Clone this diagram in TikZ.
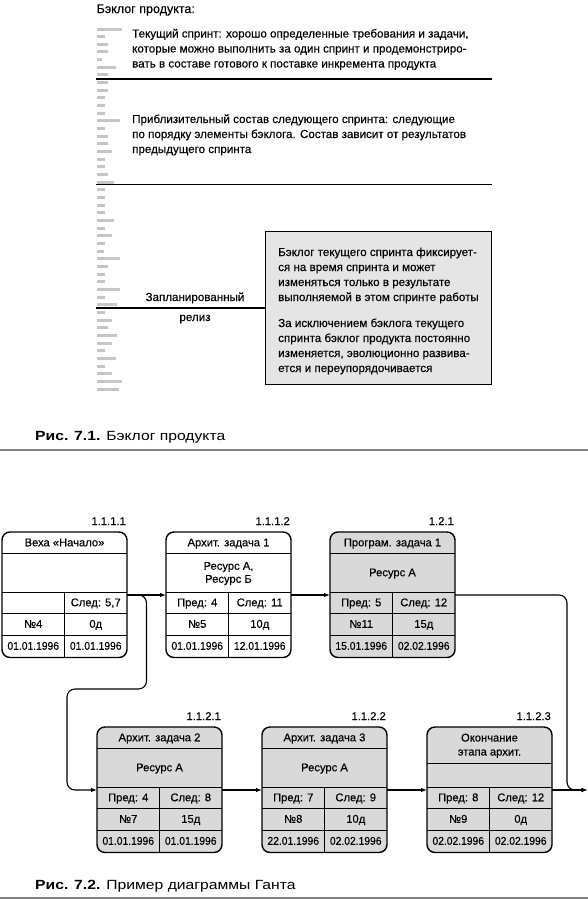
\documentclass[tikz,border=0pt]{standalone}
\usepackage{fontspec}
\setmainfont[FakeBold=0.25]{Liberation Sans}
\newfontfamily\capfont[FakeStretch=1.18]{Liberation Sans}
\newfontfamily\datefont[FakeBold=0.25,FakeStretch=0.92]{Liberation Sans}
\usetikzlibrary{arrows.meta,calc}

\definecolor{bargray}{gray}{0.78}
\definecolor{notegray}{gray}{0.9}
\definecolor{cellgray}{gray}{0.85}
\definecolor{rulegray}{gray}{0.5}

\tikzset{
  txt/.style={inner sep=0pt, anchor=base west, font=\fontsize{11.6}{15}\selectfont},
  gt/.style={inner sep=0pt, text height=8pt, text depth=1pt, font=\fontsize{11.2}{13}\selectfont},
  gd/.style={gt, font=\datefont\fontsize{11.2}{13}\selectfont},
  gbox/.style={draw, line width=1.4pt, rounded corners=8pt, minimum width=125pt,
    minimum height=125.5pt, inner sep=0pt, outer sep=0pt, anchor=north west},
  arr/.style={-{Latex[length=6pt,width=4.5pt]}, line width=1.1pt},
}

% box of the chart: [header height]{name}{x}{y}{fill}{number}
\newcommand{\gbox}[6][21.5]{%
  \node[gbox, fill=#5] (#2) at (#3,#4) {};
  \draw[line width=1pt] ($(#2.north west)+(0,#1)$) -- ($(#2.north east)+(0,#1)$);
  \draw[line width=1pt] ($(#2.north west)+(0,60)$) -- ($(#2.north east)+(0,60)$);
  \draw[line width=1pt] ($(#2.north west)+(0,81.5)$) -- ($(#2.north east)+(0,81.5)$);
  \draw[line width=1pt] ($(#2.north west)+(0,103)$) -- ($(#2.north east)+(0,103)$);
  \draw[line width=1pt] ($(#2.north west)+(62.5,60)$) -- ($(#2.south west)+(62.5,0)$);
  \coordinate (#2-h) at ($(#2.north west)+(62.5,{#1/2})$);
  \coordinate (#2-r) at ($(#2.north west)+(62.5,{(#1+60)/2})$);
  \coordinate (#2-pl) at ($(#2.north west)+(31.25,70.75)$);
  \coordinate (#2-pr) at ($(#2.north west)+(93.75,70.75)$);
  \coordinate (#2-nl) at ($(#2.north west)+(31.25,92.25)$);
  \coordinate (#2-nr) at ($(#2.north west)+(93.75,92.25)$);
  \coordinate (#2-dl) at ($(#2.north west)+(31.25,114.25)$);
  \coordinate (#2-dr) at ($(#2.north west)+(93.75,114.25)$);
  \coordinate (#2-in) at ($(#2.north west)+(0,63)$);
  \coordinate (#2-out) at ($(#2.north east)+(0,63)$);
  \node[gt, anchor=base east] (#2-no) at ($(#2.north east)+(-1,-7)$) {#6};
}

\begin{document}
\begin{tikzpicture}[x=1pt,y=-1pt]
\useasboundingbox (0,0) rectangle (588,900);

% Fig. 7.1
\node[txt, font=\fontsize{12.5}{15}\selectfont] (title) at (96.5,13) {Бэклог продукта:};
\foreach \l [count=\i from 0] in {25,8,11,11,5,19,11,11,11,8,8,8,23,8,11,11,15,8,8,11,17,8,8,
    8,8,17,8,15,8,7,23,11,8,8,23,8,20,8,15,11,20,15,8,19,8,15,25,22}
  \fill[bargray] (96.5,{27.5+7.66*\i}) rectangle ++(\l,3);

\node[txt] (cur1) at (132,37.5) {Текущий спринт: хорошо определенные требования и задачи,};
\node[txt] (cur2) at (132,52.5) {которые можно выполнить за один спринт и продемонстриро-};
\node[txt] (cur3) at (132,67.5) {вать в составе готового к поставке инкремента продукта};
\draw[line width=1.6pt] (96,79) -- (492,79);

\node[txt] (next1) at (132,123) {Приблизительный состав следующего спринта: следующие};
\node[txt] (next2) at (132,138) {по порядку элементы бэклога. Состав зависит от результатов};
\node[txt] (next3) at (132,153) {предыдущего спринта};
\draw[line width=1.6pt] (96,184.5) -- (492,184.5);

\node[draw, line width=1.4pt, fill=notegray, minimum width=226pt, minimum height=152.6pt,
  inner sep=0pt, outer sep=0pt, anchor=north west] (note) at (265.7,231.7) {};
\foreach \t [count=\i] in {Бэклог текущего спринта фиксирует-, ся на время спринта и может,
    изменяться только в результате, выполняемой в этом спринте работы}
  \node[txt] (notea\i) at (278,{241+15*\i}) {\t};
\foreach \t [count=\i] in {За исключением бэклога текущего, спринта бэклог продукта постоянно,
    {изменяется, эволюционно развива-}, ется и переупорядочивается}
  \node[txt] (noteb\i) at (278,{312+15*\i}) {\t};

\coordinate (rel) at (96,308);
\draw[line width=1.6pt] (rel) -- (note.west);
\node[txt, anchor=base] (rel1) at (195,301) {Запланированный};
\node[txt, anchor=base] (rel2) at (195,321) {релиз};

\node[inner sep=0pt, anchor=base west, font=\capfont\fontsize{13.3}{15}\selectfont] (cap1) at (35,440)
  {\textbf{Рис. 7.1.}\hspace{0.45em}Бэклог продукта};
\draw[rulegray, line width=1.5pt] (0,450) -- (588,450);

% Fig. 7.2
\gbox{b1}{2}{532}{white}{1.1.1.1}
\node[gt] (b1a) at (b1-h) {Веха «Начало»};
\node[gt] (b1b) at (b1-pr) {След: 5,7};
\node[gt] (b1c) at (b1-nl) {№4};
\node[gt] (b1d) at (b1-nr) {0д};
\node[gd] (b1e) at (b1-dl) {01.01.1996};
\node[gd] (b1f) at (b1-dr) {01.01.1996};

\gbox{b2}{166}{532}{white}{1.1.1.2}
\node[gt] (b2a) at (b2-h) {Архит. задача 1};
\node[gt] (b2b) at ($(b2-r)+(0,-6.5)$) {Ресурс А,};
\node[gt] (b2c) at ($(b2-r)+(0,6.5)$) {Ресурс Б};
\node[gt] (b2d) at (b2-pl) {Пред: 4};
\node[gt] (b2e) at (b2-pr) {След: 11};
\node[gt] (b2f) at (b2-nl) {№5};
\node[gt] (b2g) at (b2-nr) {10д};
\node[gd] (b2h) at (b2-dl) {01.01.1996};
\node[gd] (b2i) at (b2-dr) {12.01.1996};

\gbox{b3}{330}{532}{cellgray}{1.2.1}
\node[gt] (b3a) at (b3-h) {Програм. задача 1};
\node[gt] (b3b) at (b3-r) {Ресурс А};
\node[gt] (b3c) at (b3-pl) {Пред: 5};
\node[gt] (b3d) at (b3-pr) {След: 12};
\node[gt] (b3e) at (b3-nl) {№11};
\node[gt] (b3f) at (b3-nr) {15д};
\node[gd] (b3g) at (b3-dl) {15.01.1996};
\node[gd] (b3h) at (b3-dr) {02.02.1996};

\gbox{b4}{97}{727}{cellgray}{1.1.2.1}
\node[gt] (b4a) at (b4-h) {Архит. задача 2};
\node[gt] (b4b) at (b4-r) {Ресурс А};
\node[gt] (b4c) at (b4-pl) {Пред: 4};
\node[gt] (b4d) at (b4-pr) {След: 8};
\node[gt] (b4e) at (b4-nl) {№7};
\node[gt] (b4f) at (b4-nr) {15д};
\node[gd] (b4g) at (b4-dl) {01.01.1996};
\node[gd] (b4h) at (b4-dr) {01.01.1996};

\gbox{b5}{262}{727}{cellgray}{1.1.2.2}
\node[gt] (b5a) at (b5-h) {Архит. задача 3};
\node[gt] (b5b) at (b5-r) {Ресурс А};
\node[gt] (b5c) at (b5-pl) {Пред: 7};
\node[gt] (b5d) at (b5-pr) {След: 9};
\node[gt] (b5e) at (b5-nl) {№8};
\node[gt] (b5f) at (b5-nr) {10д};
\node[gd] (b5g) at (b5-dl) {22.01.1996};
\node[gd] (b5h) at (b5-dr) {02.02.1996};

\gbox[36]{b6}{427}{727}{cellgray}{1.1.2.3}
\node[gt] (b6a) at ($(b6-h)+(0,-7)$) {Окончание};
\node[gt] (b6b) at ($(b6-h)+(0,7)$) {этапа архит.};
\node[gt] (b6c) at (b6-pl) {Пред: 8};
\node[gt] (b6d) at (b6-pr) {След: 12};
\node[gt] (b6e) at (b6-nl) {№9};
\node[gt] (b6f) at (b6-nr) {0д};
\node[gd] (b6g) at (b6-dl) {02.02.1996};
\node[gd] (b6h) at (b6-dr) {02.02.1996};

% connectors
\coordinate (bend1) at (146.5,689);
\coordinate (bend2) at (67,790);
\coordinate (bend3) at (567,790);
\coordinate (fin) at (587.5,790);
\draw[arr] (b1-out) -- (b2-in);
\draw[arr, rounded corners=8pt] (b1-out) -| (bend1) -| (bend2) -- (b4-in);
\draw[arr] (b2-out) -- (b3-in);
\draw[arr, rounded corners=8pt] (b3-out) -| (bend3) -- (fin);
\draw[arr] (b4-out) -- (b5-in);
\draw[arr] (b5-out) -- (b6-in);
\draw[arr] (b6-out) -- (fin);

\node[inner sep=0pt, anchor=base west, font=\capfont\fontsize{13.3}{15}\selectfont] (cap2) at (35,889)
  {\textbf{Рис. 7.2.}\hspace{0.45em}Пример диаграммы Ганта};
\draw[rulegray, line width=1.5pt] (0,898) -- (588,898);
\end{tikzpicture}
\end{document}
